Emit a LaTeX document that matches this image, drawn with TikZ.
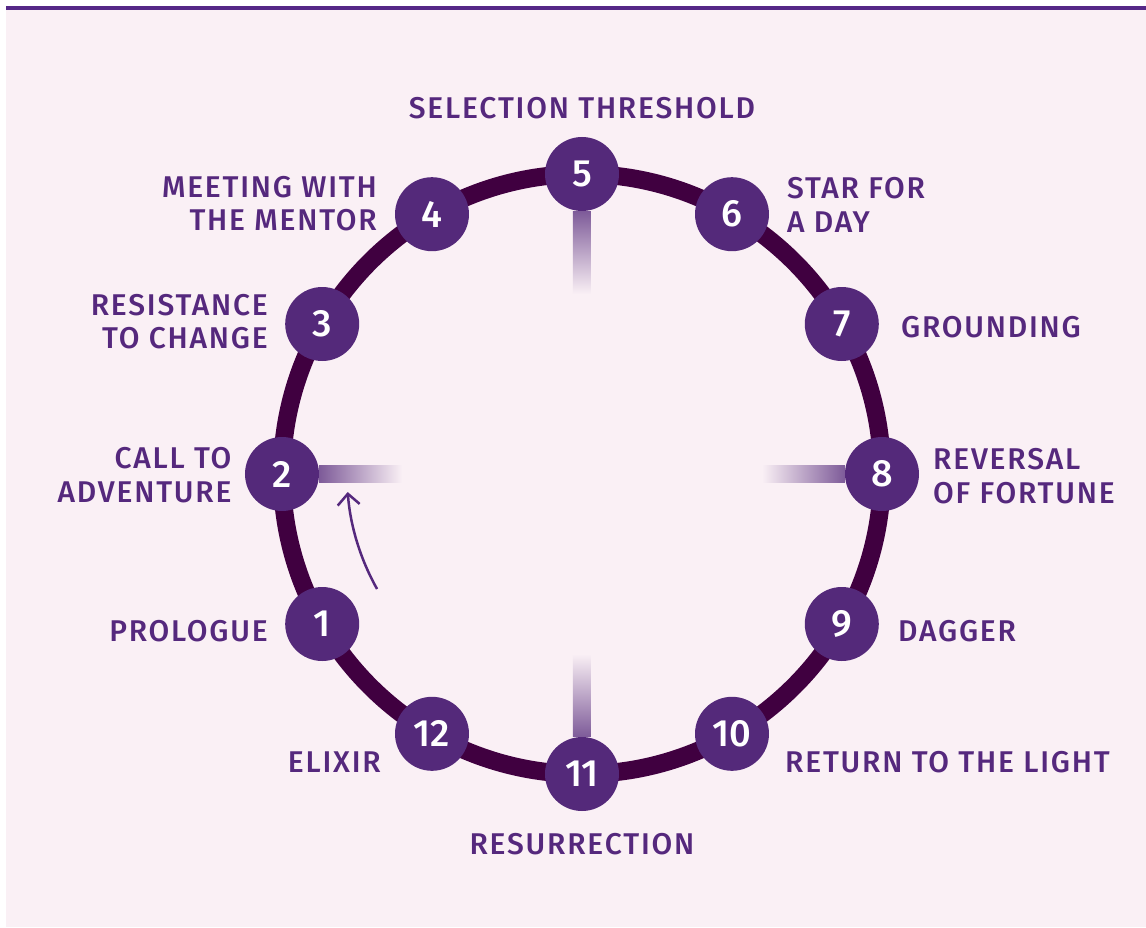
\documentclass[tikz,border=0pt]{standalone}
\usepackage{fontspec}
\setmainfont{Fira Sans}
\newfontfamily\labelfont{Fira Sans Medium}[LetterSpace=6]
\newfontfamily\numfont{Fira Sans Medium}
\usetikzlibrary{arrows.meta,calc}

\definecolor{bgpink}{RGB}{250,240,245}
\definecolor{ringplum}{RGB}{64,0,64}
\definecolor{stepfill}{RGB}{84,41,122}
\definecolor{labelpurple}{RGB}{85,40,125}
\definecolor{rulepurple}{RGB}{85,40,135}
\colorlet{tickshade}{stepfill!75!bgpink}

\tikzset{
  stepdot/.style={circle, fill=stepfill, minimum size=74pt, inner sep=0pt,
    text=white, font=\numfont\fontsize{38}{38}\selectfont},
  steplabel/.style={inner sep=0pt, text=labelpurple,
    font=\labelfont\fontsize{30}{33.5}\selectfont},
  leftlabel/.style={steplabel, anchor=east, align=right},
  rightlabel/.style={steplabel, anchor=west, align=left},
  journey/.style={labelpurple, line width=2.5pt,
    -{Straight Barb[length=11pt,width=22pt]}},
}

\begin{document}
\begin{tikzpicture}[x=1pt,y=1pt]
  % canvas: white margin, pink panel, purple rule along the top
  \useasboundingbox (-582,-453) rectangle (564,474);
  \fill[white] (-582,-453) rectangle (564,474);
  \fill[bgpink] (-576,-453) rectangle (564,465);
  \fill[rulepurple] (-576,464) rectangle (564,467.5);

  % the ring
  \draw[ringplum, line width=18pt] (0,0) circle[radius=300];

  % twelve numbered stages, 5 at the top, running clockwise
  \foreach \k in {1,...,12}
    \node[stepdot] (n\k) at ({240-30*\k}:300) {\k};

  % fading quarter markers pointing inwards
  \shade[top color=tickshade, bottom color=bgpink]
    ($(n5.south)+(-9,0)$) rectangle ($(n5)+(9,-120)$);
  \shade[bottom color=tickshade, top color=bgpink]
    ($(n11.north)+(-9,0)$) rectangle ($(n11)+(9,120)$);
  \shade[left color=tickshade, right color=bgpink]
    ($(n2.east)+(0,-8.5)$) rectangle ($(n2)+(120,8.5)$);
  \shade[right color=tickshade, left color=bgpink]
    ($(n8.west)+(0,-8.5)$) rectangle ($(n8)+(-120,8.5)$);

  % direction of travel
  \coordinate (journeystart) at (209.3:235);
  \draw[journey] (journeystart) arc[start angle=209.3, end angle=184.4, radius=235];

  % stage names
  \node[steplabel] (l5) at (0,365.5) {SELECTION THRESHOLD};
  \node[leftlabel] (l4) at (-205,270.3) {MEETING WITH\\THE MENTOR};
  \node[rightlabel] (l6) at (205,269) {STAR FOR\\A DAY};
  \node[leftlabel] (l3) at (-314,152.5) {RESISTANCE\\TO CHANGE};
  \node[rightlabel] (l7) at (319,147.3) {GROUNDING};
  \node[leftlabel] (l2) at (-350.3,-1) {CALL TO\\ADVENTURE};
  \node[rightlabel] (l8) at (351,-2) {REVERSAL\\OF FORTUNE};
  \node[leftlabel] (l1) at (-314,-157) {PROLOGUE};
  \node[rightlabel] (l9) at (316,-157) {DAGGER};
  \node[leftlabel] (l12) at (-201,-288) {ELIXIR};
  \node[rightlabel] (l10) at (203,-288) {RETURN TO THE LIGHT};
  \node[steplabel] (l11) at (0,-370) {RESURRECTION};
\end{tikzpicture}
\end{document}
